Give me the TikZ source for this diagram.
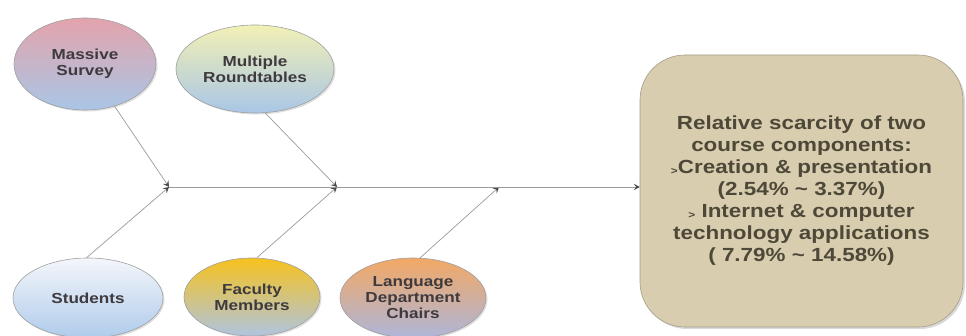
\documentclass[tikz,border=0pt]{standalone}
\usepackage{fontspec}
\setmainfont[FakeStretch=1.18]{Liberation Sans}
\usetikzlibrary{shapes.geometric, shadows, arrows.meta}

\definecolor{linegray}{HTML}{9A9A9A}
\definecolor{tipgray}{HTML}{4A4A4A}
\definecolor{inkgray}{HTML}{3E3A3E}
\definecolor{boxink}{HTML}{4E4838}
\definecolor{boxfill}{HTML}{D8CDAF}
\definecolor{boxedge}{HTML}{A39C88}
\definecolor{skyblue}{HTML}{A9C6E6}
\definecolor{surveypink}{HTML}{E3A3AC}
\definecolor{roundyellow}{HTML}{F2F0B5}
\definecolor{studentwhite}{HTML}{F4F6FB}
\definecolor{studentblue}{HTML}{AFCBEA}
\definecolor{facultygold}{HTML}{F6C21D}
\definecolor{facultyblue}{HTML}{AFC4E0}
\definecolor{chairorange}{HTML}{F2A864}
\definecolor{chairblue}{HTML}{AEB6DA}

\newcommand{\smallgt}{\raisebox{-1pt}{\fontsize{10}{10}\selectfont >}}

\begin{document}
\begin{tikzpicture}[x=1pt, y=-1pt,
	bubble/.style={draw=gray!75, ellipse, line width=0.6pt, inner sep=0pt, align=center,
		text=inkgray, font=\fontsize{14.5}{16}\selectfont\bfseries,
		drop shadow={opacity=0.25, shadow xshift=1.5pt, shadow yshift=-1.5pt}},
	branch/.style={draw=linegray, line width=0.7pt, ->, >={Stealth[length=6pt, width=6.5pt, inset=2.5pt, color=tipgray]}}]
	\useasboundingbox (0,0) rectangle (966,336);
	\node[bubble, minimum width=142pt, minimum height=92pt, top color=surveypink, bottom color=skyblue] (ms) at (85,64) {Massive\\Survey};
	\node[bubble, minimum width=158pt, minimum height=88pt, top color=roundyellow, bottom color=skyblue] (mr) at (255,69) {Multiple\\Roundtables};
	\node[bubble, minimum width=150pt, minimum height=80pt, top color=studentwhite, bottom color=studentblue] (st) at (88,298) {Students};
	\node[bubble, minimum width=136pt, minimum height=78pt, top color=facultygold, bottom color=facultyblue] (fm) at (252,297) {Faculty\\Members};
	\node[bubble, minimum width=146pt, minimum height=80pt, top color=chairorange, bottom color=chairblue] (ld) at (413,298) {Language\\Department\\Chairs};
	\node[draw=boxedge, line width=0.6pt, fill=boxfill, rounded corners=45pt, minimum width=323pt, minimum height=272pt,
		align=center, text=boxink, font=\fontsize{19}{22}\selectfont\bfseries,
		drop shadow={opacity=0.3, shadow xshift=2pt, shadow yshift=-2pt}] (box) at (801.5,191)
		{Relative scarcity of two\\course components:\\\smallgt Creation \& presentation\\(2.54\% \textasciitilde{} 3.37\%)\\\smallgt{} Internet \& computer\\technology applications\\( 7.79\% \textasciitilde{} 14.58\%)};
	\coordinate (j1) at (169,187);
	\coordinate (j2) at (337,187);
	\coordinate (j3) at (499,187);
	\draw[branch] (ms.-55) -- (j1);
	\draw[branch] (st.92) -- (j1);
	\draw[branch] (mr.-77) -- (j2);
	\draw[branch] (fm.83) -- (j2);
	\draw[branch] (ld.80) -- (j3);
	\draw[branch] (j1) -- (j1 -| box.west);
\end{tikzpicture}
\end{document}
